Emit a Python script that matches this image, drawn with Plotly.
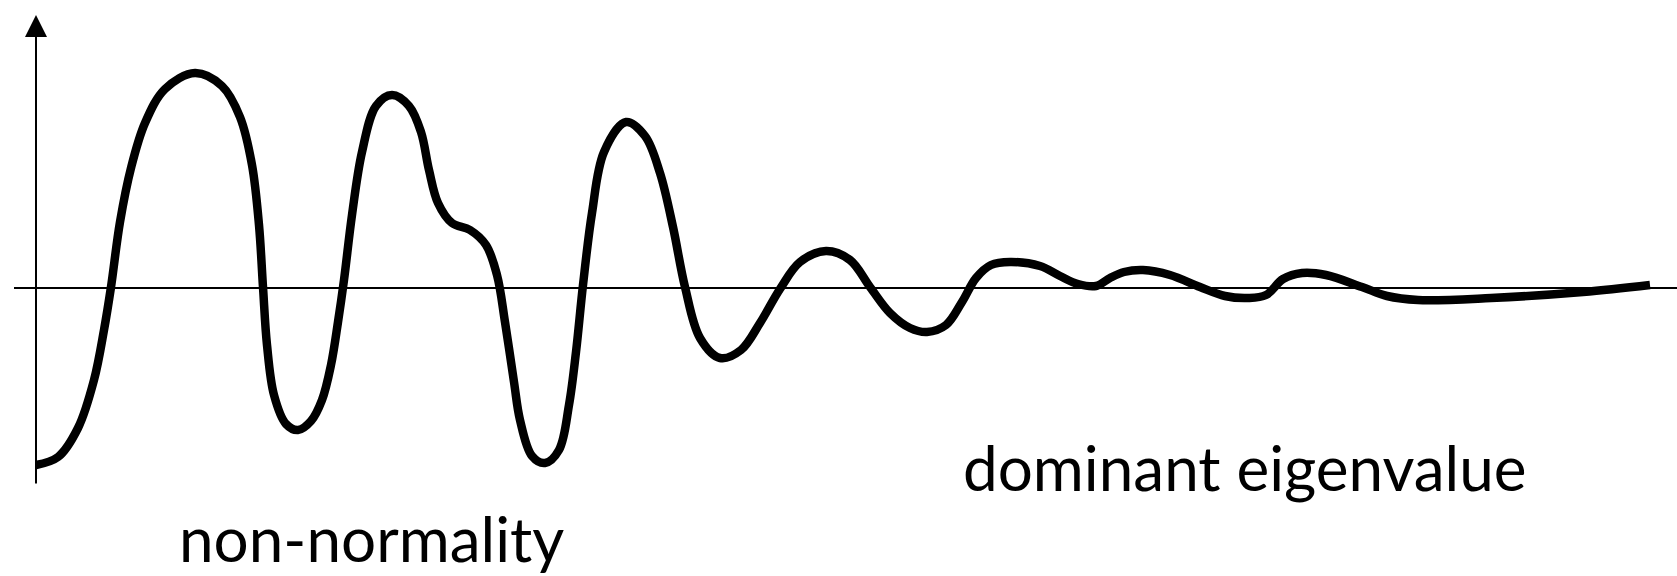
import plotly.graph_objects as go

# Response curve: time t and amplitude r (arbitrary units)
t = [0.00, 0.22, 0.42, 0.58, 0.68, 0.75, 0.84, 0.95, 1.09, 1.29,
     1.59, 1.86, 2.04, 2.16, 2.23, 2.27, 2.31, 2.38, 2.50, 2.62,
     2.75, 2.86, 2.95, 3.02, 3.08, 3.16, 3.26, 3.40, 3.56, 3.73,
     3.85, 3.93, 4.02, 4.16, 4.34, 4.50, 4.61, 4.69, 4.78, 4.84,
     4.96, 5.09, 5.23, 5.33, 5.40, 5.47, 5.56, 5.68, 5.90, 6.09,
     6.24, 6.37, 6.49, 6.64, 6.84, 7.05, 7.24, 7.44, 7.64, 7.90,
     8.14, 8.34, 8.54, 8.74, 8.91, 9.10, 9.26, 9.40, 9.55, 9.74,
     10.04, 10.24, 10.42, 10.60, 10.74, 10.88, 11.07, 11.34, 11.64, 11.89,
     12.12, 12.30, 12.47, 12.66, 12.90, 13.26, 13.51, 13.82, 14.55, 15.47,
     16.14]
r = [-1.78, -1.70, -1.41, -0.93, -0.43, 0.00, 0.65, 1.19, 1.64, 1.98,
     2.14, 2.01, 1.70, 1.22, 0.62, 0.00, -0.58, -1.08, -1.37, -1.43,
     -1.34, -1.13, -0.78, -0.35, 0.07, 0.72, 1.35, 1.81, 1.92, 1.81,
     1.55, 1.17, 0.84, 0.64, 0.57, 0.42, 0.12, -0.35, -0.95, -1.33,
     -1.69, -1.76, -1.63, -1.18, -0.65, 0.02, 0.74, 1.35, 1.65, 1.51,
     1.14, 0.60, 0.00, -0.51, -0.71, -0.63, -0.36, -0.02, 0.25, 0.36,
     0.27, 0.00, -0.26, -0.41, -0.45, -0.38, -0.15, 0.09, 0.22, 0.25,
     0.21, 0.11, 0.03, 0.01, 0.09, 0.15, 0.17, 0.12, 0.00, -0.09,
     -0.11, -0.08, 0.08, 0.14, 0.12, 0.00, -0.09, -0.13, -0.11, -0.05,
     0.02]

labels = ["non-normality", "dominant eigenvalue"]
label_t = [3.35, 12.09]
label_r = [-2.51, -1.80]

fig = go.Figure()

fig.add_trace(go.Scatter(
    x=t, y=r, mode="lines",
    line=dict(color="black", width=8.5, shape="spline", smoothing=1.0,
              simplify=False),
    hoverinfo="skip", showlegend=False,
))

# Horizontal axis running off the right edge
fig.add_shape(
    type="line", xref="x", yref="y",
    x0=-0.22, y0=-0.01, x1=16.45, y1=-0.01,
    line=dict(color="black", width=2),
)
# Vertical axis with arrow at the top
fig.add_annotation(
    x=0.0, y=2.72, ax=0.0, ay=-1.98,
    xref="x", yref="y", axref="x", ayref="y",
    showarrow=True, arrowhead=2, arrowsize=2.2, arrowwidth=2,
    arrowcolor="black", text="",
)

for txt, lx, ly in zip(labels, label_t, label_r):
    fig.add_annotation(
        x=lx, y=ly, xref="x", yref="y", text=txt, showarrow=False,
        font=dict(family="Lato", size=62, color="black"),
        xanchor="center", yanchor="middle",
    )

fig.update_xaxes(range=[-0.36, 16.41], visible=False, fixedrange=True)
fig.update_yaxes(range=[-2.89, 2.87], visible=False, fixedrange=True)
fig.update_layout(
    width=1677, height=576,
    margin=dict(l=0, r=0, t=0, b=0),
    paper_bgcolor="white", plot_bgcolor="white",
)

fig.write_html("out.html", config={"displayModeBar": False})
